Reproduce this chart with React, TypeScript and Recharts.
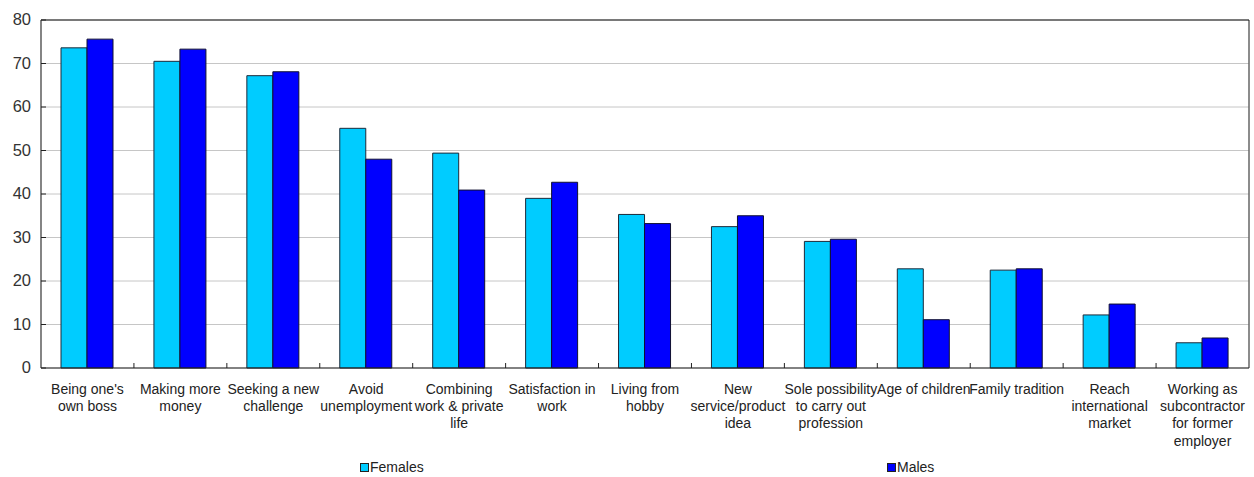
import React from "react";
import {
  BarChart,
  Bar,
  XAxis,
  YAxis,
  CartesianGrid,
  ReferenceLine,
  Legend,
} from "recharts";

// Reasons for starting a business, % of respondents by sex
const categories: string[] = [
  "Being one's\nown boss",
  "Making more\nmoney",
  "Seeking a new\nchallenge",
  "Avoid\nunemployment",
  "Combining\nwork & private\nlife",
  "Satisfaction in\nwork",
  "Living from\nhobby",
  "New\nservice/product\nidea",
  "Sole possibility\nto carry out\nprofession",
  "Age of children",
  "Family tradition",
  "Reach\ninternational\nmarket",
  "Working as\nsubcontractor\nfor former\nemployer",
];

const females: number[] = [73.6, 70.5, 67.2, 55.1, 49.4, 39.0, 35.3, 32.5, 29.1, 22.8, 22.5, 12.2, 5.8];
const males: number[] = [75.6, 73.3, 68.1, 48.0, 40.9, 42.7, 33.2, 35.0, 29.6, 11.1, 22.8, 14.7, 6.9];

const yTicks: number[] = [0, 10, 20, 30, 40, 50, 60, 70, 80];
const seriesNames = { females: "Females", males: "Males" };

const data = categories.map((name, i) => ({
  name,
  females: females[i],
  males: males[i],
}));

const FONT = "'Liberation Sans', Arial, sans-serif";
const FEMALE_COLOR = "#00CCFF";
const MALE_COLOR = "#0000FF";

// Category label (multi-line) plus an upward tick at the right edge of its slot
const XTick = (props: any) => {
  const { x, y, payload, width, visibleTicksCount, index } = props;
  const count = visibleTicksCount || categories.length;
  const band = width / count;
  const lines = String(payload.value).split("\n");
  const edge = x + band / 2;
  return (
    <g>
      {index < count - 1 && (
        <line x1={edge} x2={edge} y1={y} y2={y - 5} stroke="#222" strokeWidth={1} />
      )}
      <text
        x={x}
        y={y + 26}
        textAnchor="middle"
        fontSize={14}
        fontFamily={FONT}
        fill="#222"
      >
        {lines.map((line, i) => (
          <tspan key={i} x={x} dy={i === 0 ? 0 : 17.2}>
            {line}
          </tspan>
        ))}
      </text>
    </g>
  );
};

const YTick = (props: any) => {
  const { x, y, payload } = props;
  return (
    <g>
      <line x1={x} x2={x + 5} y1={y} y2={y} stroke="#222" strokeWidth={1} />
      <text
        x={x - 10}
        y={y + 5}
        textAnchor="end"
        fontSize={16.5}
        fontFamily={FONT}
        fill="#333"
      >
        {payload.value}
      </text>
    </g>
  );
};

const LegendContent = () => {
  const items = [
    { label: seriesNames.females, color: FEMALE_COLOR, left: 360 },
    { label: seriesNames.males, color: MALE_COLOR, left: 887 },
  ];
  return (
    <div style={{ position: "relative", height: 0 }}>
      {items.map((it) => (
        <div
          key={it.label}
          style={{
            position: "absolute",
            left: it.left,
            top: 459,
            display: "flex",
            alignItems: "center",
            fontFamily: FONT,
            fontSize: 14,
            color: "#222",
            whiteSpace: "nowrap",
          }}
        >
          <span
            style={{
              display: "inline-block",
              width: 7,
              height: 7,
              background: it.color,
              border: "1px solid #222",
              marginRight: 1,
            }}
          />
          <span>{it.label}</span>
        </div>
      ))}
    </div>
  );
};

export default function App() {
  return (
    <div style={{ position: "absolute", left: 0, top: 0, background: "#fff" }}>
      <BarChart
        width={1254}
        height={477}
        data={data}
        margin={{ top: 20, right: 5, bottom: 9, left: 0 }}
        barCategoryGap={20}
        barGap={0}
      >
        <CartesianGrid vertical={false} stroke="#c6c6c6" strokeWidth={1} />
        {/* right frame edge of the plot area */}
        <CartesianGrid
          horizontal={false}
          stroke="#666"
          strokeWidth={1.5}
          verticalCoordinatesGenerator={({ offset }: any) => [offset.left + offset.width]}
        />
        <XAxis
          dataKey="name"
          interval={0}
          height={100}
          tickSize={0}
          tickMargin={0}
          tick={<XTick />}
          axisLine={{ stroke: "#222", strokeWidth: 1.2 }}
          tickLine={false}
        />
        <YAxis
          width={41}
          domain={[0, 80]}
          ticks={yTicks}
          interval={0}
          tickSize={0}
          tickMargin={0}
          tick={<YTick />}
          axisLine={{ stroke: "#333", strokeWidth: 1.2 }}
          tickLine={false}
        />
        <ReferenceLine y={80} stroke="#111" strokeWidth={1.2} />
        <Legend content={<LegendContent />} wrapperStyle={{ left: 0, top: 0, width: 1254, height: 0 }} />
        <Bar
          dataKey="females"
          name={seriesNames.females}
          fill={FEMALE_COLOR}
          stroke="#1c2a3a"
          strokeWidth={1}
          isAnimationActive={false}
        />
        <Bar
          dataKey="males"
          name={seriesNames.males}
          fill={MALE_COLOR}
          stroke="#101030"
          strokeWidth={1}
          isAnimationActive={false}
        />
      </BarChart>
    </div>
  );
}
